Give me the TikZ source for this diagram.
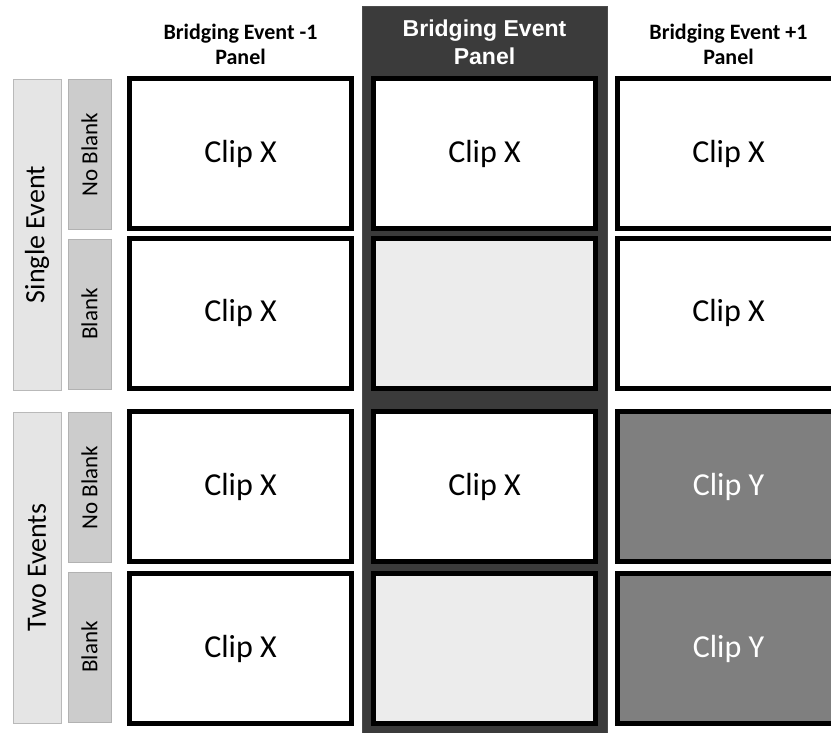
\documentclass[tikz,border=0pt]{standalone}
\usepackage{fontspec}
\setmainfont{Carlito}
\newfontfamily\headfont{Liberation Sans}
\definecolor{clipgray}{HTML}{7F7F7F}
\definecolor{blankgray}{HTML}{ECECEC}
\definecolor{bandgray}{HTML}{3B3B3B}
\begin{document}
\begin{tikzpicture}[x=1pt,y=-1pt,
  shotbox/.style={draw=black, line width=5pt, fill=white, minimum width=222pt,
    minimum height=150pt, inner sep=0pt, font=\fontsize{32}{36}\selectfont},
  blankshot/.style={shotbox, fill=blankgray},
  othershot/.style={shotbox, fill=clipgray, text=white},
  grouplab/.style={draw=gray!55, line width=1pt, fill=gray!20, minimum width=48pt,
    minimum height=311pt, inner sep=0pt, font=\fontsize{28}{32}\selectfont},
  condlab/.style={draw=gray!60, line width=1pt, fill=gray!40, minimum width=43pt,
    minimum height=150pt, inner sep=0pt, font=\fontsize{23}{27}\selectfont},
  colhead/.style={align=center, font=\fontsize{22}{25}\selectfont\bfseries}
]
\useasboundingbox (0,0) rectangle (831,732);
\clip (0,0) rectangle (831,732);
\fill[white] (0,0) rectangle (831,732);

% dark band behind the bridging event column
\draw[draw=gray!60!black, fill=bandgray, line width=1pt] (362,6) rectangle (607,745);

% column headings
\node[colhead] (h1) at (240.5,44) {Bridging Event -1\\Panel};
\node[colhead, text=white, font=\headfont\fontsize{23}{28}\selectfont\bfseries] (h2) at (484.5,42) {Bridging Event\\Panel};
\node[colhead] (h3) at (728.5,44) {Bridging Event +1\\Panel};

% row group labels
\node[grouplab] (g1) at (37,234.5) {\rotatebox{90}{Single Event}};
\node[grouplab] (g2) at (37,567.5) {\rotatebox{90}{Two Events}};
\node[condlab] (c1) at (89.5,154.5) {\rotatebox{90}{No Blank}};
\node[condlab] (c2) at (89.5,314) {\rotatebox{90}{Blank}};
\node[condlab] (c3) at (89.5,487.5) {\rotatebox{90}{No Blank}};
\node[condlab] (c4) at (89.5,647) {\rotatebox{90}{Blank}};

% clip panels
\node[shotbox] (a1) at (240.5,153.5) {Clip X};
\node[shotbox] (b1) at (484.5,153.5) {Clip X};
\node[shotbox] (d1) at (728.5,153.5) {Clip X};

\node[shotbox] (a2) at (240.5,313) {Clip X};
\node[blankshot] (b2) at (484.5,313) {};
\node[shotbox] (d2) at (728.5,313) {Clip X};

\node[shotbox] (a3) at (240.5,486.5) {Clip X};
\node[shotbox] (b3) at (484.5,486.5) {Clip X};
\node[othershot] (d3) at (728.5,486.5) {Clip Y};

\node[shotbox] (a4) at (240.5,648.5) {Clip X};
\node[blankshot] (b4) at (484.5,648.5) {};
\node[othershot] (d4) at (728.5,648.5) {Clip Y};
\end{tikzpicture}
\end{document}
